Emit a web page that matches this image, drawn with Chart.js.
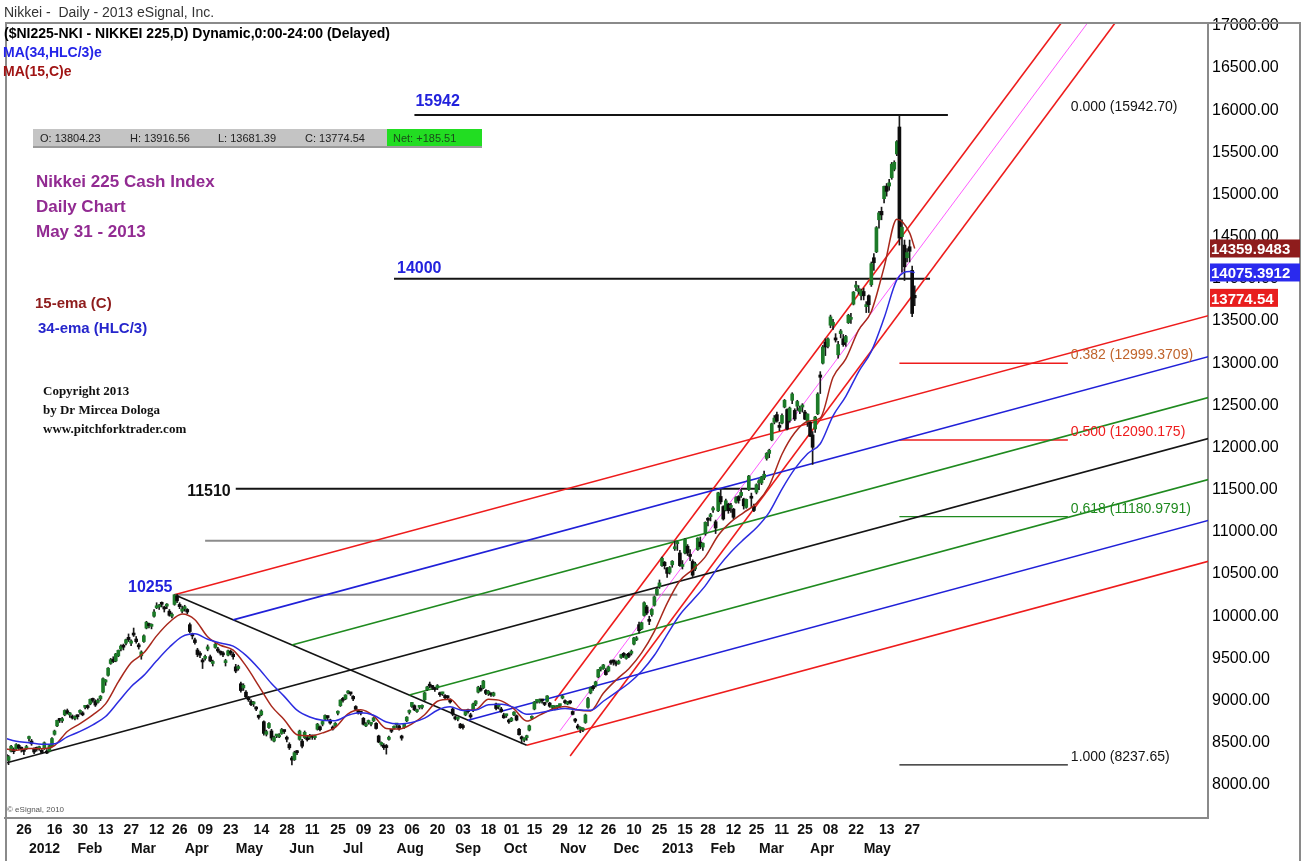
<!DOCTYPE html>
<html>
<head>
<meta charset="utf-8">
<script src="https://cdn.jsdelivr.net/npm/chart.js@4.4.1/dist/chart.umd.min.js"></script>
<style>
  html, body { margin: 0; padding: 0; background: #fff; }
  #wrap { width: 1306px; height: 861px; }
</style>
</head>
<body>
<div id="wrap"><canvas id="chart" width="1306" height="861"></canvas></div>
<script>
// ---- daily candles, one array per month: [open, high, low, close]
const dec2011 = [[8360,8380,8262,8296],[8290,8350,8240,8336],[8400,8470,8390,8459],[8420,8440,8370,8395],[8430,8490,8420,8479],[8470,8480,8420,8440],[8430,8450,8390,8423],[8400,8420,8360,8398],[8430,8470,8420,8455]];
const jan2012 = [[8550,8580,8520,8560],[8520,8540,8470,8488],[8430,8440,8370,8390],[8440,8450,8400,8422],[8430,8460,8410,8448],[8410,8420,8370,8385],[8430,8510,8420,8500],[8400,8420,8370,8378],[8400,8480,8390,8466],[8460,8560,8450,8550],[8600,8650,8590,8639],[8700,8770,8690,8766],[8770,8790,8740,8765],[8760,8800,8740,8785],[8830,8890,8820,8883],[8880,8900,8840,8849],[8830,8860,8800,8841],[8810,8830,8780,8793],[8790,8820,8770,8802]];
const feb2012 = [[8810,8830,8780,8809],[8860,8890,8840,8876],[8850,8870,8820,8831],[8920,8940,8900,8929],[8930,8950,8900,8917],[8960,9020,8950,9015],[9010,9030,8980,9002],[8990,9010,8930,8947],[8980,9020,8970,8999],[9020,9060,9000,9052],[9100,9270,9090,9260],[9220,9250,9180,9238],[9300,9390,9290,9384],[9440,9500,9430,9485],[9490,9520,9450,9463],[9470,9560,9460,9554],[9530,9600,9520,9595],[9610,9660,9590,9647],[9640,9670,9600,9633],[9680,9730,9660,9722],[9750,9790,9700,9723]];
const mar2012 = [[9680,9720,9650,9707],[9800,9860,9760,9777],[9730,9760,9680,9698],[9650,9680,9610,9637],[9530,9590,9490,9576],[9700,9780,9690,9768],[9860,9940,9850,9929],[9900,9920,9860,9889],[9880,9910,9850,9899],[10000,10080,9990,10050],[10100,10160,10090,10123],[10110,10140,10080,10129],[10150,10170,10110,10141],[10090,10120,10050,10086],[10120,10150,10090,10127],[10060,10080,10000,10011],[10000,10040,9980,10018],[10140,10255,10130,10255],[10240,10260,10160,10182],[10140,10160,10090,10114],[10060,10120,10040,10083]];
const apr2012 = [[10090,10130,10060,10109],[10080,10090,10030,10050],[9900,9920,9800,9819],[9780,9800,9730,9767],[9720,9740,9670,9688],[9600,9620,9520,9546],[9560,9580,9510,9538],[9470,9500,9380,9458],[9500,9540,9480,9524],[9610,9660,9590,9637],[9520,9540,9460,9470],[9440,9480,9410,9464],[9630,9680,9620,9667],[9610,9630,9570,9588],[9570,9590,9540,9561],[9560,9580,9520,9542],[9450,9490,9410,9467],[9540,9600,9530,9590],[9580,9600,9540,9561],[9550,9570,9490,9520]];
const may2012 = [[9400,9430,9330,9350],[9380,9420,9360,9380],[9200,9220,9100,9119],[9150,9200,9120,9181],[9100,9120,9030,9045],[9020,9050,8990,9009],[8990,9010,8940,8953],[8960,8990,8930,8973],[8910,8930,8880,8900],[8820,8830,8780,8801],[8830,8890,8820,8876],[8750,8760,8590,8611],[8600,8650,8580,8633],[8680,8740,8670,8729],[8640,8660,8530,8556],[8520,8580,8510,8563],[8580,8600,8560,8580],[8570,8610,8560,8593],[8610,8670,8600,8657],[8640,8650,8610,8633],[8560,8580,8510,8542]];
const jun2012 = [[8480,8500,8420,8440],[8320,8340,8238,8295],[8300,8400,8290,8383],[8390,8410,8360,8382],[8540,8650,8530,8639],[8520,8540,8440,8459],[8560,8640,8550,8624],[8560,8580,8520,8536],[8560,8600,8540,8587],[8570,8590,8540,8568],[8560,8590,8540,8569],[8660,8730,8650,8721],[8690,8700,8640,8655],[8720,8760,8700,8752],[8780,8830,8770,8824],[8800,8820,8770,8798],[8770,8780,8720,8734],[8680,8700,8650,8663],[8700,8740,8690,8730],[8850,8880,8830,8874],[8940,9010,8930,9006]];
const jul2012 = [[9020,9040,8980,9003],[9020,9070,9010,9066],[9090,9120,9080,9104],[9090,9100,9060,9079],[9050,9060,9000,9020],[8930,8940,8880,8896],[8870,8890,8840,8857],[8860,8870,8830,8851],[8790,8800,8710,8720],[8700,8740,8690,8724],[8740,8770,8720,8755],[8720,8740,8700,8726],[8760,8800,8750,8795],[8730,8740,8660,8669],[8580,8590,8500,8508],[8480,8510,8460,8488],[8470,8490,8420,8443],[8460,8480,8365,8443],[8540,8580,8530,8566],[8640,8660,8620,8636],[8670,8700,8660,8695]];
const aug2012 = [[8710,8730,8680,8711],[8700,8710,8650,8663],[8580,8590,8530,8555],[8680,8730,8670,8726],[8760,8810,8750,8804],[8860,8890,8840,8881],[8930,8980,8920,8978],[8940,8950,8880,8891],[8870,8900,8860,8885],[8920,8940,8900,8930],[8920,8950,8900,8929],[9010,9100,9000,9092],[9130,9170,9120,9162],[9180,9220,9150,9171],[9160,9180,9130,9156],[9140,9160,9110,9131],[9150,9190,9130,9178],[9080,9100,9050,9070],[9080,9100,9060,9085],[9060,9070,9020,9034],[9040,9060,9010,9033],[9000,9020,8970,8983],[8900,8910,8820,8839]];
const sep2012 = [[8800,8820,8770,8783],[8780,8800,8760,8784],[8720,8730,8670,8679],[8700,8720,8660,8680],[8830,8880,8820,8871],[8880,8900,8850,8869],[8830,8850,8790,8807],[8880,8970,8870,8959],[8960,9000,8940,8995],[9100,9170,9090,9159],[9140,9180,9110,9123],[9150,9240,9140,9232],[9120,9130,9070,9086],[9080,9120,9060,9110],[9080,9090,9050,9069],[9060,9100,9050,9091],[8960,8970,8890,8906],[8930,8960,8900,8949],[8900,8920,8860,8870]];
const oct2012 = [[8830,8850,8790,8796],[8820,8840,8800,8824],[8770,8780,8730,8746],[8760,8800,8750,8791],[8830,8870,8820,8863],[8820,8830,8760,8769],[8660,8670,8590,8596],[8570,8580,8488,8546],[8530,8560,8510,8534],[8560,8590,8530,8577],[8650,8710,8640,8701],[8790,8820,8780,8806],[8900,8990,8890,8982],[8990,9010,8970,9002],[8980,9020,8970,9010],[9000,9010,8970,8996],[8960,8980,8940,8954],[8990,9060,8980,9055],[8970,8980,8920,8933],[8920,8940,8900,8929],[8900,8940,8890,8928],[8920,8940,8900,8928]];
const nov2012 = [[8940,8960,8920,8946],[9030,9060,9020,9051],[8990,9010,8960,8975],[8960,8990,8950,8976],[8990,9000,8960,8972],[8870,8880,8830,8837],[8770,8790,8740,8757],[8700,8720,8660,8676],[8660,8690,8619,8662],[8650,8680,8630,8664],[8740,8840,8730,8829],[8920,9040,8910,9024],[9090,9160,9080,9153],[9160,9180,9120,9142],[9180,9230,9160,9222],[9280,9370,9270,9366],[9370,9400,9350,9388],[9380,9430,9370,9423],[9360,9380,9300,9308],[9350,9410,9340,9400],[9450,9480,9430,9446]];
const dec2012 = [[9460,9480,9420,9458],[9450,9470,9410,9432],[9440,9480,9430,9468],[9510,9550,9500,9545],[9560,9570,9510,9527],[9500,9550,9490,9533],[9560,9570,9510,9525],[9560,9600,9540,9581],[9670,9750,9660,9742],[9720,9760,9710,9737],[9900,9930,9800,9828],[9850,9930,9840,9923],[10010,10170,10000,10160],[10110,10130,10020,10039],[9960,10000,9900,9940],[10020,10090,10000,10080],[10130,10240,10120,10230],[10260,10330,10250,10322],[10350,10430,10330,10395]];
const jan2013 = [[10600,10700,10590,10688],[10640,10650,10560,10599],[10570,10580,10460,10508],[10520,10590,10500,10578],[10610,10660,10580,10652],[10800,10890,10780,10801],[10860,10890,10780,10879],[10750,10780,10590,10600],[10590,10660,10560,10609],[10750,10920,10740,10913],[10830,10850,10720,10747],[10730,10790,10660,10709],[10650,10670,10470,10487],[10560,10640,10540,10620],[10790,10930,10780,10926],[10880,10940,10800,10824],[10820,10870,10780,10866],[10980,11120,10960,11113],[11150,11170,11070,11138]];
const feb2013 = [[11180,11220,11130,11191],[11260,11300,11230,11260],[11120,11140,10980,11046],[11250,11470,11240,11463],[11420,11500,11330,11357],[11300,11310,11140,11153],[11260,11390,11250,11369],[11330,11340,11220,11251],[11290,11340,11230,11307],[11270,11280,11150,11173],[11350,11420,11340,11408],[11420,11430,11340,11372],[11430,11500,11410,11468],[11390,11400,11270,11309],[11290,11390,11280,11386],[11500,11670,11490,11662],[11420,11460,11300,11399],[11300,11330,11240,11254],[11470,11570,11450,11559]];
const mar2013 = [[11580,11620,11500,11606],[11580,11660,11560,11652],[11640,11720,11620,11683],[11870,11940,11850,11932],[11930,11980,11880,11968],[12090,12290,12080,12283],[12300,12380,12280,12349],[12390,12420,12300,12314],[12250,12300,12200,12239],[12290,12400,12280,12381],[12480,12570,12470,12560],[12450,12460,12210,12220],[12320,12480,12300,12468],[12560,12650,12520,12635],[12440,12460,12320,12338],[12490,12560,12440,12546],[12430,12490,12400,12471],[12480,12520,12420,12493],[12420,12440,12330,12336],[12300,12400,12250,12397]];
const apr2013 = [[12300,12310,12130,12135],[12150,12190,11800,12003],[12220,12370,12180,12362],[12400,12650,12390,12634],[12860,12900,12640,12833],[13000,13210,12990,13192],[13250,13290,13090,13192],[13200,13300,13180,13288],[13450,13570,13420,13549],[13450,13520,13400,13485],[13300,13350,13250,13275],[13100,13260,13060,13221],[13350,13400,13300,13382],[13290,13340,13200,13220],[13250,13330,13200,13316],[13480,13580,13470,13568],[13520,13590,13470,13529],[13700,13850,13690,13843],[13900,13970,13860,13926],[13850,13920,13820,13884],[13800,13880,13750,13860]];
const may2013 = [[13850,13890,13750,13799],[13670,13730,13600,13694],[13800,13810,13600,13693],[13930,14200,13910,14180],[14250,14300,14100,14191],[14320,14620,14310,14607],[14700,14800,14600,14782],[14800,14850,14700,14758],[14950,15100,14900,15096],[15100,15130,14980,15037],[15100,15180,15050,15138],[15200,15380,15180,15360],[15300,15400,15280,15381],[15480,15640,15460,15627],[15800,15942.7,14400,14483],[14500,14700,14080,14612],[14400,14460,13980,14143],[14250,14360,14200,14311],[14380,14460,14200,14326],[14100,14150,13550,13589.03],[13804.23,13916.56,13681.39,13774.54]];

// exponential averages, one value every 5 bars starting at bar -1
const ema15 = [8430,8412,8433,8430,8467,8634,8727,8830,8961,9222,9448,9566,9767,9929,10027,9959,9756,9656,9598,9411,9175,8934,8774,8596,8583,8617,8682,8842,8890,8819,8669,8662,8724,8832,8992,9016,8888,8894,9015,8996,8902,8757,8827,8898,8931,8889,8878,9087,9244,9378,9565,9821,10153,10420,10553,10707,10957,11118,11229,11338,11547,11920,12175,12309,12350,12833,13052,13392,13613,14136,14707,14545];
const ema34 = [8560,8517,8501,8482,8488,8570,8635,8713,8811,8986,9165,9299,9472,9632,9759,9792,9728,9683,9646,9536,9381,9203,9050,8886,8805,8766,8762,8826,8855,8827,8746,8723,8740,8792,8886,8926,8882,8887,8952,8958,8919,8839,8855,8885,8906,8890,8884,8992,9098,9206,9348,9537,9783,10017,10189,10363,10582,10762,10911,11049,11232,11508,11747,11926,12045,12376,12607,12898,13140,13535,13987,14086];
const ema15Last = 14359.9483;
const ema34Last = 14075.3912;
const lastClose = 13774.54;

// axis labels
const dayTickBars = [4,16,26,36,46,56,65,75,85,97,107,117,127,137,146,156,166,176,186,195,204,214,224,233,243,253,263,272,282,291,301,310,320,330,342,352];
const dayTickText = ['26','16','30','13','27','12','26','09','23','14','28','11','25','09','23','06','20','03','18','01','15','29','12','26','10','25','15','28','12','25','11','25','08','22','13','27'];
const monthTickBars = [9,28,49,70,90,111,132,153,176,195,217,238,257,276,295,315,336];
const monthTickText = ['2012','Feb','Mar','Apr','May','Jun','Jul','Aug','Sep','Oct','Nov','Dec','2013','Feb','Mar','Apr','May'];
const priceTicks = [8000,8500,9000,9500,10000,10500,11000,11500,12000,12500,13000,13500,14000,14500,15000,15500,16000,16500,17000];

// drawn studies: [bar, price, bar, price]
const bigFork = [
  [66, 10255, 471, 13563],
  [89, 9957, 471, 13077],
  [112, 9660, 471, 12592],
  [0, 8260, 471, 12107],
  [158, 9065, 471, 11621],
  [181, 8768, 471, 11136],
  [204, 8470, 471, 10651],
  [66, 10255, 204, 8470]
];
const steepFork = [
  [215, 8997, 420, 17300],
  [217, 8641, 425, 17086],
  [221, 8344, 437, 17135]
];
const levelLines = [
  [66, 10255, 263, 10255],
  [78, 10896, 263, 10896],
  [90, 11510, 295, 11510],
  [152, 14000, 362, 14000],
  [160, 15942.7, 369, 15942.7]
];
const fibRatios = ['0.000', '0.382', '0.500', '0.618', '1.000'];
const fibValues = [15942.70, 12999.3709, 12090.175, 11180.9791, 8237.65];
const fibText = ['15942.70', '12999.3709', '12090.175', '11180.9791', '8237.65'];
const fibSpan = [350, 416];

// ---- styles
const RED = '#ee1c1c', BLUE = '#2020d8', GREEN = '#1f8a1f', BLACK = '#141414', GREY = '#8c8c8c', PINK = '#ff5cff';
const bigForkColors = [RED, BLUE, GREEN, BLACK, GREEN, BLUE, RED, BLACK];
const steepForkColors = [RED, PINK, RED];
const levelColors = [GREY, GREY, BLACK, BLACK, BLACK];
const fibLineColors = [null, RED, RED, GREEN, BLACK];
const fibTextColors = [BLACK, '#c0642c', RED, GREEN, BLACK];

const seg = a => [{ x: a[0], y: a[1] }, { x: a[2], y: a[3] }];
const lineSet = (data, color, width, order) => ({
  type: 'line', data, borderColor: color, borderWidth: width,
  pointRadius: 0, fill: false, tension: 0, order
});

const candles = [].concat(dec2011, jan2012, feb2012, mar2012, apr2012, may2012, jun2012, jul2012,
  aug2012, sep2012, oct2012, nov2012, dec2012, jan2013, feb2013, mar2013, apr2013, may2013);
const lastBar = candles.length - 1;

const datasets = [];
bigFork.forEach((l, i) => datasets.push(lineSet(seg(l), bigForkColors[i], 1.6, 5)));
steepFork.forEach((l, i) => datasets.push(lineSet(seg(l), steepForkColors[i], i === 1 ? 1 : 1.6, 5)));
levelLines.forEach((l, i) => datasets.push(lineSet(seg(l), levelColors[i], 2, 5)));
fibValues.forEach((v, i) => {
  if (fibLineColors[i]) datasets.push(lineSet(seg([fibSpan[0], v, fibSpan[1], v]), fibLineColors[i], 1.4, 5));
});

datasets.push({
  type: 'bar', order: 3, grouped: false, barThickness: 1, minBarLength: 1,
  backgroundColor: '#1a1a1a',
  data: candles.map((c, i) => ({ x: i, y: [c[2], c[1]] }))
});
datasets.push({
  type: 'bar', order: 2, grouped: false, barThickness: 3, minBarLength: 2,
  backgroundColor: candles.map(c => c[3] >= c[0] ? '#1c7a28' : '#0c0c0c'),
  borderColor: '#1a2a1a', borderWidth: 0,
  data: candles.map((c, i) => ({ x: i, y: [c[0], c[3]] }))
});

const emaPoints = arr => arr.map((v, i) => ({ x: -1 + 5 * i, y: v }));
datasets.push({ ...lineSet(emaPoints(ema15).concat([{ x: lastBar, y: ema15Last }]), '#a8281c', 1.5, 1), cubicInterpolationMode: 'monotone' });
datasets.push({ ...lineSet(emaPoints(ema34).concat([{ x: lastBar, y: ema34Last }]), '#2c2ce0', 1.5, 0), cubicInterpolationMode: 'monotone' });

// ---- texts, frame and value tags
const overlay = {
  id: 'overlay',
  beforeDraw(chart) {
    const { ctx } = chart;
    ctx.save();
    ctx.fillStyle = '#fff';
    ctx.fillRect(0, 0, chart.width, chart.height);
    ctx.restore();
  },
  afterDraw(chart) {
    const { ctx, chartArea: ca, scales } = chart;
    const X = v => scales.x.getPixelForValue(v);
    const Y = v => scales.y.getPixelForValue(v);
    const text = (s, x, y, font, color, align) => {
      ctx.font = font; ctx.fillStyle = color; ctx.textAlign = align || 'left';
      ctx.textBaseline = 'alphabetic'; ctx.fillText(s, x, y);
    };
    ctx.save();

    // frame
    ctx.strokeStyle = '#8a8a8a';
    ctx.lineWidth = 2;
    ctx.beginPath();
    ctx.moveTo(ca.left + 1, chart.height); ctx.lineTo(ca.left + 1, ca.top);
    ctx.lineTo(1300, ca.top); ctx.lineTo(1300, chart.height);
    ctx.stroke();

    // fib labels, clipped to the plot
    ctx.save();
    ctx.beginPath(); ctx.rect(ca.left, ca.top, ca.right - ca.left, ca.bottom - ca.top); ctx.clip();
    fibValues.forEach((v, i) => {
      text(fibRatios[i] + ' (' + fibText[i] + ')', X(fibSpan[1]) + 3, Y(v) - 4, '14px Arial', fibTextColors[i]);
    });
    ctx.restore();

    // header
    text('Nikkei -  Daily - 2013 eSignal, Inc.', 4, 17, '14px Arial', '#333');
    text('($NI225-NKI - NIKKEI 225,D) Dynamic,0:00-24:00 (Delayed)', 4, 38, 'bold 14px Arial', '#000');
    text('MA(34,HLC/3)e', 3, 57, 'bold 14px Arial', '#2424e8');
    text('MA(15,C)e', 3, 76, 'bold 14px Arial', '#a01414');

    // quote strip
    ctx.fillStyle = '#c4c4c4'; ctx.fillRect(33, 129, 354, 18);
    ctx.fillStyle = '#22dd22'; ctx.fillRect(387, 129, 95, 18);
    ctx.fillStyle = '#9a9a9a'; ctx.fillRect(33, 146, 449, 2);
    const q = candles[lastBar];
    const net = q[3] - candles[lastBar - 1][3];
    text('O: ' + q[0].toFixed(2), 40, 142, '11px Arial', '#222');
    text('H: ' + q[1].toFixed(2), 130, 142, '11px Arial', '#222');
    text('L: ' + q[2].toFixed(2), 218, 142, '11px Arial', '#222');
    text('C: ' + q[3].toFixed(2), 305, 142, '11px Arial', '#222');
    text('Net: +' + net.toFixed(2), 393, 142, '11px Arial', '#1a4a1a');

    // notes
    text('Nikkei 225 Cash Index', 36, 187, 'bold 17px Arial', '#922b92');
    text('Daily Chart', 36, 212, 'bold 17px Arial', '#922b92');
    text('May 31 - 2013', 36, 237, 'bold 17px Arial', '#922b92');
    text('15-ema (C)', 35, 308, 'bold 15px Arial', '#8e1c1c');
    text('34-ema (HLC/3)', 38, 333, 'bold 15px Arial', '#2626cc');
    text('Copyright 2013', 43, 395, 'bold 13px "Liberation Serif"', '#111');
    text('by Dr Mircea Dologa', 43, 414, 'bold 13px "Liberation Serif"', '#111');
    text('www.pitchforktrader.com', 43, 433, 'bold 13px "Liberation Serif"', '#111');
    text('\u00a9 eSignal, 2010', 7, 812, '8px Arial', '#555');

    // level labels
    text('15942', X(levelLines[4][0]) + 1, Y(levelLines[4][1]) - 9, 'bold 16px Arial', '#2222dd');
    text('14000', X(levelLines[3][0]) + 3, Y(levelLines[3][1]) - 6, 'bold 16px Arial', '#2222dd');
    text('11510', X(levelLines[2][0]) - 5, Y(levelLines[2][1]) + 7, 'bold 16px Arial', '#111', 'right');
    text('10255', X(bigFork[0][0]) - 2, Y(bigFork[0][1]) - 3, 'bold 16px Arial', '#2222dd', 'right');

    // value tags on the price axis
    const tag = (v, label, bg, w) => {
      const y = Y(v);
      ctx.fillStyle = bg; ctx.fillRect(ca.right + 2, y - 9, w, 18);
      text(label, ca.right + 3, y + 6, 'bold 15px Arial', '#fff');
    };
    tag(ema15Last, ema15Last.toFixed(4), '#8e1c1c', 90);
    tag(ema34Last, ema34Last.toFixed(4), '#2a2aee', 90);
    tag(lastClose, lastClose.toFixed(2), '#e81e1e', 68);

    ctx.restore();
  }
};

new Chart(document.getElementById('chart'), {
  type: 'line',
  data: { datasets },
  plugins: [overlay],
  options: {
    responsive: false,
    animation: false,
    devicePixelRatio: 1,
    layout: { padding: { left: 5, top: 23, right: 0, bottom: 0 } },
    plugins: { legend: { display: false }, tooltip: { enabled: false } },
    scales: {
      x: {
        type: 'linear', position: 'bottom', min: -0.4, max: 470.9, offset: false,
        grid: { display: false, drawTicks: false },
        border: { display: true, color: '#8a8a8a', width: 2 },
        afterBuildTicks: a => { a.ticks = dayTickBars.map(v => ({ value: v })); },
        afterFit: s => { s.height = 22; },
        ticks: {
          autoSkip: false, maxRotation: 0, align: 'start', padding: 4, color: '#111',
          font: { family: 'Arial', size: 14, weight: 'bold' },
          callback: (v, i) => dayTickText[i]
        }
      },
      x2: {
        type: 'linear', position: 'bottom', min: -0.4, max: 470.9, offset: false,
        grid: { display: false, drawTicks: false },
        border: { display: false },
        afterBuildTicks: a => { a.ticks = monthTickBars.map(v => ({ value: v })); },
        afterFit: s => { s.height = 21; },
        ticks: {
          autoSkip: false, maxRotation: 0, align: 'start', padding: 1, color: '#111',
          font: { family: 'Arial', size: 14, weight: 'bold' },
          callback: (v, i) => monthTickText[i]
        }
      },
      y: {
        type: 'linear', position: 'right', min: 7608, max: 17033,
        grid: { display: false, drawTicks: false },
        border: { display: true, color: '#8a8a8a', width: 2 },
        afterBuildTicks: a => { a.ticks = priceTicks.map(v => ({ value: v })); },
        afterFit: s => { s.width = 98; },
        ticks: {
          padding: 4, color: '#000',
          font: { family: 'Arial', size: 16 },
          callback: v => v.toFixed(2)
        }
      }
    }
  }
});
</script>
</body>
</html>
